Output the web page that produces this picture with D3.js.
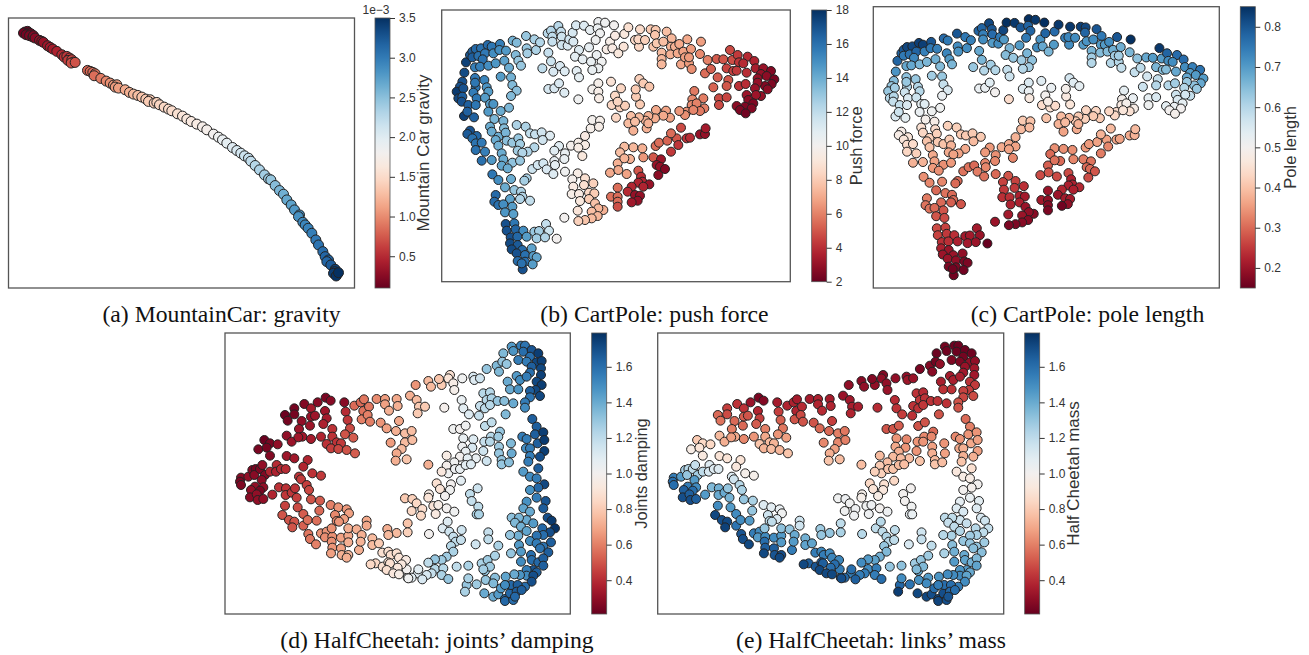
<!DOCTYPE html>
<html>
<head>
<meta charset="utf-8">
<script src="https://cdn.jsdelivr.net/npm/d3@7"></script>
<style>
  html, body { margin: 0; padding: 0; background: #fff; }
  svg { display: block; }
</style>
</head>
<body>
<div id="chart"></div>
<script>
// embedding x, embedding y, gravity (x 1e-3)
var mountainCarPoints = [
  [75,97,.12],[82,95,.13],[70,100,.14],[85,100,.15],[78,105,.16],[92,102,.17],[88,108,.2],[98,112,.22],[100,108,.22],[105,115,.25],
  [118,122,.3],[125,125,.31],[130,128,.33],[142,138,.37],[150,143,.39],[158,148,.4],[170,155,.45],[185,165,.5],[192,172,.55],[200,170,.58],
  [208,175,.6],[203,182,.6],[215,180,.65],[220,187,.68],[213,190,.7],[225,188,.72],
  [262,212,.8],[270,215,.82],[278,218,.85],[285,222,.87],[282,228,.85],[302,236,.92],[318,244,.98],[330,250,1.02],[340,256,1.05],[350,255,1.08],
  [345,262,1.08],[355,265,1.1],[375,270,1.17],[388,278,1.2],[400,283,1.25],[413,287,1.28],[425,292,1.32],[437,298,1.36],[450,300,1.38],[445,305,1.38],
  [462,310,1.4],[470,308,1.42],[478,315,1.45],[492,322,1.47],[505,328,1.5],[515,333,1.52],[532,342,1.55],[547,349,1.6],[560,358,1.62],[573,365,1.65],
  [590,373,1.68],[607,381,1.72],[620,390,1.75],[640,403,1.8],[655,412,1.85],[667,420,1.9],[680,430,1.95],[697,443,2.0],[710,452,2.05],[722,460,2.1],
  [733,468,2.15],[745,475,2.2],[752,484,2.22],[765,497,2.28],[778,510,2.33],[793,525,2.38],[805,537,2.42],[812,540,2.45],[825,557,2.52],[838,572,2.58],
  [850,583,2.62],[860,600,2.68],[873,615,2.72],[883,630,2.78],[898,645,2.85],[895,650,2.84],[908,667,2.9],[915,675,2.92],[924,685,2.95],[935,700,2.98],
  [947,720,3.02],[955,735,3.05],[968,755,3.1],[975,770,3.15],[985,780,3.18],[980,785,3.15],[992,795,3.22],[1005,808,3.4],[1003,815,3.42],[1012,822,3.45],
  [1000,820,3.42],[1008,828,3.48],[1015,818,3.5]
];

// embedding x, embedding y, push force, pole length
var cartPolePoints = [
  [93,187,17.5,.78],[105,165,16.8,.78],[112,155,16.5,.8],[122,147,16.3,.82],[138,145,16,.82],[158,135,16.2,.83],[170,140,15.8,.83],[195,132,15.5,.8],
  [112,172,16.6,.75],[130,168,16,.76],[150,160,15.7,.78],[175,160,15,.74],[193,150,15,.75],[213,152,14.6,.74],[143,178,16,.73],[120,202,15.5,.68],
  [135,200,15.5,.68],[160,197,15,.66],[182,190,14.7,.66],[208,182,14.3,.67],[222,203,14,.65],[88,218,17.2,.71],[197,230,14.5,.62],[228,232,13.8,.63],
  [242,165,13.5,.73],[250,182,13,.7],[258,197,13,.66],[233,122,13.8,.77],[245,128,13.5,.75],[273,108,13,.8],[275,145,13,.72],[277,160,12.7,.71],
  [298,118,12.6,.75],[303,150,12.5,.72],[315,127,12.3,.74],[322,205,12,.63],[340,158,11.8,.68],[348,184,11.6,.66],[355,215,11.2,.6],[375,198,11.2,.62],
  [389,214,11,.6],[338,100,12.2,.78],[348,92,12.3,.78],[370,78,12.2,.82],[352,110,12,.74],[352,125,11.8,.72],[378,95,11.8,.8],[380,110,11.6,.77],
  [380,135,11.5,.7],[398,137,11.2,.72],[403,118,11.5,.75],[415,125,11.2,.7],[413,98,11.3,.82],[423,76,11.2,.85],[447,77,11,.84],[432,150,11,.66],
  [420,170,10.8,.65],[443,178,10.6,.63],[462,142,10.6,.7],[465,90,10.6,.8],[490,66,10.3,.85],[510,68,10.2,.84],[537,76,10,.85],[488,85,10.4,.78],
  [495,100,10.2,.78],[482,120,10.2,.75],[485,165,10.4,.66],[468,185,10.5,.62],[500,185,10.2,.64],[490,205,10.4,.62],[472,210,10.5,.6],[425,213,10.8,.58],
  [432,232,10.7,.57],[525,125,9.6,.71],[515,148,9.5,.72],[540,107,9.4,.78],[532,145,9.4,.68],[550,160,9.2,.66],[568,102,9.2,.77],[566,140,9,.7],
  [580,82,8.8,.84],[615,88,8.6,.84],[600,120,8.5,.74],[612,140,8.4,.72],[610,118,8.4,.73],[630,120,8.2,.72],[647,88,8,.83],[662,90,7.9,.82],
  [695,95,7.6,.8],[660,105,7.8,.78],[710,115,7.4,.75],[757,118,7,.8],[798,125,6.7,.85],[655,140,7.8,.7],[665,130,7.9,.71],[685,125,7.6,.72],
  [680,158,7.5,.66],[680,177,7.4,.62],[680,193,7.4,.6],[708,140,7.3,.7],[706,163,7.2,.65],[720,140,7.2,.7],[733,132,7,.72],[728,160,7,.65],
  [738,193,6.9,.6],[745,155,6.8,.67],[750,172,6.7,.62],[762,190,6.6,.6],[768,147,6.6,.67],[762,172,6.6,.62],[770,207,6.3,.58],[795,162,6.2,.66],
  [818,180,6,.64],[810,220,5.5,.58],[828,207,5.2,.59],[848,232,5.1,.56],[845,177,5.1,.68],[865,178,5,.7],[885,150,4.7,.84],[892,180,4.8,.7],
  [875,205,4.6,.66],[895,213,4.5,.65],[908,165,4.3,.78],[912,187,4.2,.72],[905,212,4.3,.65],[935,218,4,.68],[938,170,3.9,.77],[925,190,3.9,.72],
  [958,183,3.7,.77],[962,205,3.5,.72],[985,205,3.1,.74],[1008,213,2.6,.76],[978,222,3,.7],[995,228,2.8,.7],[968,235,3,.68],[1018,238,2.4,.7],
  [1010,252,2.5,.68],[990,258,2.6,.64],[968,248,3,.63],[960,265,3.1,.6],[998,268,2.8,.63],[978,288,3,.58],[963,285,3.2,.56],[935,285,3.2,.57],
  [940,300,2.8,.55],[955,310,2.5,.53],[930,320,2.5,.52],[905,318,2.8,.53],[915,330,2.5,.5],[950,325,2.6,.5],[932,340,2.2,.49],[880,240,5,.58],
  [875,258,5,.6],[912,258,4.1,.6],[932,252,4,.62],[852,295,4.7,.53],[875,292,4.6,.55],[852,315,4.7,.51],[835,262,5.3,.57],[778,273,5.8,.53],
  [772,298,6.2,.49],[805,295,5.9,.52],[770,315,6.2,.47],[785,310,6,.49],[808,325,5.9,.48],[795,333,5.8,.45],[755,335,6.3,.44],[775,330,6.1,.46],
  [750,345,6.3,.43],[733,333,6.5,.43],[693,332,6.8,.43],[663,330,7,.43],[705,353,6.8,.41],[685,347,7,.41],[660,355,7.1,.42],[640,348,7.2,.41],
  [632,362,7.2,.41],[612,352,7.5,.39],[588,348,7.6,.39],[580,370,7.5,.38],[600,365,7.6,.39],[595,392,7.2,.36],[635,385,7.2,.37],[640,370,7.2,.38],
  [543,353,8.4,.4],[530,315,8.4,.44],[555,322,8.2,.45],[570,317,8.1,.44],[615,313,8,.46],[603,290,8,.47],[602,268,8,.49],[540,287,8.5,.5],
  [548,305,8.3,.48],[558,265,8.4,.52],[528,245,8.9,.54],[613,237,8.2,.56],[625,250,8,.54],[643,260,7.8,.53],[490,250,9.7,.55],[472,268,9.9,.54],
  [490,275,9.6,.52],[492,295,9.5,.47],[430,298,10.2,.44],[340,267,11.3,.52],[358,265,11.2,.52],[372,250,11.2,.54],[388,278,11,.5],
  [232,255,13.5,.58],[245,272,13.3,.55],[228,288,13.5,.52],[120,234,15.7,.64],[122,262,15.8,.6],
  [82,245,17,.65],[75,260,17,.63],[65,275,17.7,.63],[85,265,17,.62],[70,295,17.3,.6],[82,290,16.6,.6],[80,305,17,.58],[100,315,16.5,.58],
  [120,248,15.8,.63],[148,240,15.3,.63],[115,278,15.6,.57],[125,295,15.8,.55],[155,262,14.8,.6],[160,275,14.5,.6],[150,293,14.5,.57],[122,315,15.8,.55],
  [87,348,17.5,.55],[117,352,16.5,.53],[97,335,16.5,.57],[165,312,14.4,.53],[175,312,14.8,.54],[160,335,14.6,.52],[197,333,14,.51],[222,323,13.6,.51],
  [178,357,13.6,.49],[205,363,13.7,.48],[165,380,14,.45],[207,385,13.4,.44],[245,375,12.5,.42],[272,380,12.5,.42],[105,392,17,.48],[97,402,16.7,.48],
  [125,408,16.3,.46],[112,415,16,.46],[122,430,15.9,.44],[122,450,16,.43],[140,428,15.7,.44],[150,455,15.5,.42],[140,482,16,.38],[170,480,14.6,.38],
  [170,395,14,.43],[190,410,14,.42],[212,398,13.7,.42],[182,420,14,.4],[190,437,13.8,.4],[215,422,13.3,.41],[232,428,13,.4],[250,415,13,.41],
  [255,432,12.8,.38],[285,400,12,.41],[300,403,11.8,.41],[320,397,11.5,.41],[345,407,11,.41],[323,420,11.5,.39],[298,442,12.3,.37],[278,455,12.4,.36],
  [248,452,12.8,.37],[262,458,12.4,.36],[200,460,14,.37],[205,478,14,.36],[200,497,14.2,.35],[232,488,13.2,.34],[218,505,14,.34],[255,482,13,.35],
  [172,523,15.8,.34],[190,540,15,.33],[228,537,14,.33],[275,535,12.6,.3],[268,542,12.7,.3],[292,507,11.6,.31],[308,495,11.4,.31],[325,490,11.4,.3],
  [335,508,11.2,.32],[355,522,11,.31],[358,483,10.6,.33],[360,495,10.7,.33],[372,438,10.9,.35],[358,452,10.9,.35],[390,460,10.5,.34],[388,477,10.5,.33],
  [390,515,10.2,.3],[408,437,9.8,.37],[430,428,9.6,.37],[450,435,9.5,.36],[430,443,9.5,.36],[442,468,9.2,.33],[450,408,9.4,.38],[467,385,9.7,.39],
  [472,360,9.9,.41],[495,362,9.7,.4],[492,380,9.6,.39],[428,520,9.5,.28],[412,538,9.8,.26],[450,535,8.8,.26],[475,550,8.2,.24],[447,555,8.8,.25],
  [415,560,9.4,.25],[410,582,9.6,.24],[432,582,9.4,.24],[435,603,9.2,.22],[462,578,8.5,.22],[478,580,8,.21],[462,597,8,.22],[480,610,7.7,.2],
  [505,630,7.2,.18],[490,625,7.4,.19],[470,635,7.6,.2],[488,648,7.4,.18],[470,655,7.5,.18],[450,660,7.8,.17],[430,663,8.2,.17],[428,632,9,.21],[388,653,10,.2],
  [210,562,14,.3],[238,570,13,.31],[258,575,12.5,.3],[262,590,12.3,.3],[255,597,12.4,.29],[285,602,11.9,.28],[225,597,14.3,.3],[182,585,16.2,.32],
  [178,605,16.2,.31],[190,615,16,.31],[205,613,15,.3],[232,620,14.5,.28],[210,637,14.7,.28],[235,642,14.4,.27],[212,672,17,.27],[238,670,15.8,.26],
  [215,692,17,.26],[242,688,16.4,.25],[265,692,15,.24],[227,712,17,.24],[247,710,16.3,.24],[275,710,14.5,.22],[298,695,13,.21],[312,693,12.7,.21],
  [333,672,11.8,.21],[342,692,11.6,.2],[305,715,12.8,.21],[330,712,12.4,.2],[365,716,10,.15],[225,730,17.2,.22],[248,735,16.7,.2],[230,748,17.2,.2],
  [262,750,16.2,.2],[290,745,14.3,.19],[245,760,17,.2],[270,765,16,.19],[295,768,14.5,.17],[305,772,14.2,.17],[248,783,16.2,.17],[270,785,16,.17],
  [293,793,14.5,.16],[263,808,17,.16],[260,790,16,.16],
  [568,440,7.5,.34],[595,442,7.4,.34],[622,445,7.2,.34],[555,457,7.6,.3],[585,477,7.2,.3],[625,472,6.5,.33],[548,490,7.2,.29],[525,518,7,.27],
  [550,510,7,.28],[575,522,6.8,.27],[568,475,7.3,.31],[610,512,5,.27],[655,472,5,.32],[662,438,5.5,.35],[672,428,5.5,.35],[678,478,3.2,.31],
  [697,422,5.3,.36],[725,415,5,.36],[708,400,5.5,.38],[738,383,4.7,.39],[730,435,4.2,.33],[755,415,4.1,.36],[765,413,4,.36],[708,455,4.3,.32],
  [795,403,3,.37],[810,402,3,.38],[812,385,3.4,.39],[665,495,3.1,.3],[675,500,3,.3],[690,507,2.6,.28],[670,525,2.8,.27],[618,530,4,.22],
  [622,545,3.8,.22],[610,548,3.7,.22],[643,553,3.1,.23],[625,560,3.7,.22],[590,560,3.8,.23],[578,575,3.9,.2],[600,585,3,.21],[615,587,3,.21],
  [608,602,3,.19],[590,607,3.3,.16],[548,563,5.5,.2],[528,590,5.6,.21],[548,590,5.5,.19],[548,605,5.5,.18],[548,620,4.8,.17]
];

// embedding x, embedding y, joints damping, links mass
var halfCheetahPoints = [
  [78,458,.28,1.55],[75,470,.25,1.6],[78,480,.26,1.6],[100,455,.3,1.45],[112,435,.27,1.27],[122,432,.24,1.22],[118,450,.28,1.3],[135,432,.26,1.2],
  [142,420,.3,1.18],[150,450,.27,1.27],[140,465,.29,1.45],[120,485,.3,1.55],[145,487,.3,1.5],[135,497,.25,1.6],[108,495,.3,1.65],[105,517,.28,1.7],
  [125,508,.3,1.65],[128,525,.3,1.7],[145,522,.3,1.65],[172,509,.38,1.45],[165,440,.38,1.2],[185,420,.4,1.1],[183,440,.37,1.12],[198,432,.4,1.1],
  [212,432,.4,1.1],[192,487,.42,1.35],[213,490,.42,1.38],[212,510,.43,1.4],[230,503,.43,1.4],[240,490,.42,1.3],[252,455,.42,1.1],[258,463,.44,1.15],
  [275,480,.45,1.22],[282,495,.47,1.25],[245,518,.45,1.37],[210,542,.46,1.5],[248,547,.48,1.45],[288,523,.5,1.3],[315,527,.52,1.25],[265,567,.52,1.5],
  [313,557,.55,1.3],[202,570,.5,1.72],[222,585,.5,1.7],[238,590,.5,1.72],[232,607,.5,1.74],[265,602,.53,1.58],[278,585,.56,1.5],[305,587,.56,1.45],
  [280,627,.58,1.68],[285,642,.58,1.7],[303,658,.6,1.72],[318,625,.64,1.55],[335,620,.65,1.5],[330,637,.63,1.45],[352,635,.64,1.5],[350,650,.64,1.6],
  [352,668,.65,1.65],[348,685,.68,1.72],[378,670,.68,1.65],[380,690,.72,1.68],[400,690,.74,1.7],[395,698,.72,1.72],[378,638,.68,1.5],[400,632,.7,1.45],
  [400,652,.72,1.45],[400,610,.72,1.32],[425,613,.72,1.3],[440,630,.72,1.4],[432,675,.72,1.55],[437,650,.73,1.45],[472,640,.75,1.38],[472,660,.75,1.42],
  [492,655,.8,1.42],[347,540,.6,1.1],[370,547,.65,1.08],[395,553,.66,1.05],[402,565,.68,1.02],[360,570,.62,1.15],[387,582,.68,1.1],[365,588,.62,1.2],
  [350,610,.64,1.3],[372,590,.65,1.2],[455,587,.7,1.15],[455,602,.7,1.15],
  [130,373,.25,.95],[148,345,.22,.8],[165,355,.25,.85],[155,368,.24,.9],[165,392,.27,.93],[188,358,.3,.85],[215,332,.3,.75],[230,350,.32,.72],
  [215,393,.33,.9],[238,400,.34,.9],[278,405,.38,.9],[265,425,.38,.92],[292,445,.42,.97],[318,452,.44,.97],[210,270,.22,.55],[218,287,.24,.57],
  [238,250,.24,.45],[238,268,.24,.48],[268,237,.27,.42],[260,288,.3,.55],[288,250,.35,.42],[288,275,.32,.52],[300,272,.33,.5],[285,302,.33,.55],
  [252,312,.33,.6],[262,335,.34,.7],[250,337,.34,.68],[288,342,.35,.62],[308,232,.28,.32],[332,218,.25,.25],[347,227,.28,.27],[330,258,.33,.38],
  [335,280,.35,.45],[325,297,.37,.52],[318,335,.38,.65],[352,312,.42,.6],[352,335,.42,.7],[335,357,.42,.78],[365,352,.42,.75],[378,355,.44,.73],
  [348,370,.45,.73],[370,372,.47,.76],[395,375,.5,.74],[420,385,.52,.78],[388,232,.28,.35],[392,260,.4,.45],[398,285,.43,.53],[405,310,.48,.58],
  [390,328,.5,.65],[415,338,.52,.68],[418,242,.55,.38],[437,232,.55,.37],[447,223,.58,.35],[445,258,.57,.38],[440,283,.6,.5],[462,245,.58,.4],
  [458,270,.6,.48],[465,290,.6,.5],[485,222,.63,.35],[510,222,.67,.37],[510,238,.68,.38],[522,257,.72,.4],[497,293,.65,.5],[515,310,.68,.55],
  [545,222,.7,.35],[548,243,.72,.38],[552,288,.7,.45],[543,318,.72,.55],[527,353,.67,.62],[570,325,.76,.6],[590,318,.76,.58],[570,352,.75,.62],
  [592,345,.76,.6],[560,372,.75,.68],[545,385,.7,.72],[542,407,.72,.78],[575,403,.78,.76],[602,180,.65,.3],[640,168,.75,.28],[648,185,.75,.3],
  [680,180,.8,.3],[672,162,.78,.27],[705,150,.88,.27],[700,160,.9,.3],[715,175,.95,.3],[718,195,.97,.32],[742,160,1.02,.3],[775,155,1.12,.3],
  [778,165,1.1,.33],[795,160,1.15,.32],[585,212,.72,.32],[605,225,.76,.34],[612,245,.8,.36],[630,245,.8,.36],[608,265,.8,.38],[688,248,.98,.4],
  [740,225,1.05,.4],[745,250,1.08,.42],[762,268,1.1,.45],[792,272,1.18,.42],
  [815,132,1.3,.25],[845,122,1.35,.27],[852,140,1.35,.28],[865,85,1.35,.22],[862,110,1.3,.24],[875,117,1.3,.3],[890,65,1.45,.24],[895,78,1.47,.23],
  [918,62,1.55,.22],[930,62,1.58,.22],[925,80,1.6,.22],[910,105,1.55,.26],[950,75,1.68,.22],[970,85,1.75,.23],[945,95,1.6,.24],[935,110,1.55,.26],
  [965,112,1.72,.3],[980,108,1.74,.3],[950,125,1.65,.32],[978,130,1.72,.34],[945,143,1.6,.34],[905,153,1.45,.35],[915,165,1.5,.36],[935,155,1.55,.36],
  [978,150,1.74,.34],[878,170,1.4,.36],[885,193,1.4,.42],[910,193,1.47,.42],[965,170,1.72,.42],[980,180,1.75,.44],[962,195,1.72,.45],[945,198,1.65,.46],
  [975,213,1.72,.48],[945,217,1.58,.47],[930,232,1.55,.5],[930,248,1.5,.5],[895,235,1.4,.42],[805,205,1.22,.42],[825,202,1.22,.4],[815,225,1.22,.43],
  [830,220,1.25,.42],[795,243,1.18,.42],[810,250,1.2,.42],[825,240,1.22,.43],[848,228,1.3,.42],[868,228,1.33,.42],[872,268,1.35,.5],[952,282,1.65,.55],
  [965,305,1.65,.6],[960,328,1.65,.65],[985,322,1.75,.65],[968,355,1.65,.7],[988,345,1.76,.68],[988,378,1.75,.68],[922,335,1.55,.62],[935,342,1.55,.65],
  [933,370,1.5,.7],[945,370,1.55,.72],[975,395,1.7,.72],[945,393,1.55,.72],[940,410,1.55,.78],[970,430,1.65,.88],[925,440,1.45,.92],[945,455,1.5,.95],
  [965,460,1.55,.95],[988,478,1.72,1.0],[970,488,1.62,.98],[945,495,1.48,1.0],[965,518,1.55,1.05],[992,528,1.68,1.08],[985,550,1.66,1.1],[935,530,1.48,1.07],
  [925,550,1.42,1.1],[945,560,1.4,1.12],[935,585,1.4,1.15],[890,578,1.32,1.2],[912,578,1.36,1.2],[900,593,1.35,1.18],[955,595,1.45,1.18],[918,605,1.38,1.2],
  [935,618,1.42,1.23],[910,632,1.38,1.25],[885,630,1.3,1.22],[998,578,1.7,1.12],[1010,587,1.76,1.15],[1020,610,1.78,1.18],[1005,622,1.7,1.2],[982,610,1.62,1.22],
  [985,630,1.6,1.25],[965,632,1.58,1.28],[945,648,1.5,1.3],[1008,652,1.65,1.28],[965,655,1.55,1.3],[985,665,1.58,1.3],[1000,682,1.65,1.33],[975,670,1.58,1.33],
  [912,660,1.45,1.33],[918,680,1.45,1.38],[888,685,1.3,1.25],[948,690,1.6,1.4],[950,705,1.6,1.42],[918,710,1.5,1.45],[970,712,1.62,1.38],[985,700,1.65,1.35],
  [985,722,1.65,1.42],[955,735,1.68,1.45],[935,735,1.55,1.47],[935,752,1.5,1.5],[915,750,1.47,1.5],[965,742,1.65,1.4],[955,752,1.7,1.42],[950,770,1.7,1.5],
  [930,785,1.6,1.55],[898,748,1.4,1.5],[872,755,1.42,1.47],[840,758,1.33,1.45],[810,738,1.3,1.42],[800,715,1.25,1.28],[818,705,1.28,1.3],[825,725,1.28,1.35],
  [840,692,1.25,1.28],[850,662,1.25,1.2],[820,622,1.18,1.15],[820,643,1.2,1.18],[782,658,1.15,1.12],[805,733,1.27,1.35],[812,765,1.3,1.48],[835,775,1.35,1.5],
  [755,780,1.3,1.62],[760,760,1.25,1.5],[750,800,1.25,1.75],[785,778,1.28,1.58],[808,805,1.4,1.72],[835,815,1.4,1.72],[850,808,1.45,1.7],[858,790,1.45,1.6],
  [870,822,1.6,1.72],[870,828,1.62,1.73],[885,805,1.62,1.7],[895,825,1.6,1.7],[888,780,1.62,1.6],[908,780,1.65,1.6],[905,800,1.65,1.62],[920,795,1.65,1.6],
  [870,780,1.5,1.55],[900,815,1.62,1.68],[760,722,1.25,1.32],[725,725,1.2,1.3],
  [715,312,1.02,.5],[735,312,1.0,.5],[752,302,1.02,.52],[810,303,1.2,.5],[830,292,1.2,.5],[855,320,1.3,.55],[828,335,1.22,.62],[808,350,1.18,.65],
  [825,350,1.22,.65],[850,335,1.28,.62],[745,340,1.05,.65],[775,343,1.1,.62],[742,365,1.03,.7],[772,368,1.12,.65],[752,380,1.05,.72],[805,378,1.15,.65],
  [852,365,1.28,.68],[852,385,1.3,.72],[888,355,1.35,.65],[890,385,1.4,.68],[695,392,.95,.75],[735,395,1.0,.75],[783,400,1.05,.76],[758,400,1.08,.75],
  [815,408,1.15,.78],[860,405,1.3,.75],[860,418,1.3,.78],[882,412,1.33,.76],[718,412,1.02,.76],[695,422,.98,.8],[700,445,1.02,.82],[680,440,.92,.82],
  [720,432,1.03,.78],[735,432,1.05,.78],[752,420,1.08,.75],[768,418,1.1,.76],[640,419,.72,.76],[738,467,1.08,.85],[665,475,.88,.85],[675,492,.9,.9],
  [708,478,1,.88],[705,495,1.02,.92],[690,513,1.0,.95],[788,490,1.15,1.0],[765,507,1.2,1.0],[770,528,1.18,1.0],[790,545,1.2,1.02],[785,568,1.25,1.05],
  [792,568,1.25,1.05],[642,508,.95,.97],[640,518,.9,.97],[570,520,.8,1.02],[592,522,.82,1.03],[605,535,.85,1.02],[622,552,.87,1.03],[590,558,.85,1.02],
  [618,572,.85,1.03],[655,543,.9,1.02],[670,540,.95,1.03],[695,550,1.0,1.0],[718,560,1.02,1.03],[662,567,.93,1.03],[578,595,.78,1.2],[578,622,.82,1.25],
  [545,624,.75,1.3],[517,612,.72,1.28],[520,630,.75,1.3],[642,627,1.0,1.22],[683,610,1.1,1.2],[698,590,1.1,1.22],[703,620,1.15,1.2],[740,615,1.15,1.2],
  [715,635,1.18,1.23],[722,650,1.2,1.22],[738,645,1.18,1.2],[708,663,1.22,1.3],[715,680,1.25,1.35],[695,695,1.28,1.38],[680,705,1.28,1.42],[660,703,1.3,1.45],
  [640,713,1.2,1.5],[660,732,1.22,1.5],[685,730,1.22,1.55],[650,745,1.18,1.55],[635,750,1.12,1.55],[608,745,1.1,1.55],[610,733,1.08,1.6],[622,763,1.12,1.65],
  [590,758,1.08,1.62],[578,758,1.05,1.65],[575,733,1.0,1.55],[680,750,1.25,1.55],[700,762,1.3,1.6],[502,683,.88,1.55],[520,680,.88,1.52],[527,690,.87,1.55],
  [545,685,.88,1.5],[552,698,.9,1.52],[573,705,.94,1.52],[560,718,.92,1.6],[482,715,.85,1.65],[467,718,.85,1.72],[503,725,.88,1.68],[520,712,.88,1.68],
  [525,715,.88,1.65],[548,728,.92,1.6],[515,735,.88,1.72],[535,745,.92,1.72],[552,748,.95,1.72],[580,760,1.02,1.7]
];

var gravityTicks = [0.5, 1.0, 1.5, 2.0, 2.5, 3.0, 3.5];
var forceTicks   = [2, 4, 6, 8, 10, 12, 14, 16, 18];
var lengthTicks  = [0.2, 0.3, 0.4, 0.5, 0.6, 0.7, 0.8];
var cheetahTicks = [0.4, 0.6, 0.8, 1.0, 1.2, 1.4, 1.6];

var gravityRange = [0.1, 3.5];
var forceRange   = [2, 18];
var lengthRange  = [0.15, 0.85];
var cheetahRange = [0.21, 1.79];

// the embeddings have no axes, these are just their limits
var mountainCarXLim = [25, 1063], mountainCarYLim = [55, 864];
var cartPoleXLim    = [20, 1066], cartPoleYLim    = [30, 845];
var cheetahXLim     = [30, 1066], cheetahYLim     = [24, 867];

var panels = [
  { points: mountainCarPoints, col: 2, xLim: mountainCarXLim, yLim: mountainCarYLim, range: gravityRange, ticks: gravityTicks, fmt: ".1f",
    label: "Mountain Car gravity", caption: "(a) MountainCar: gravity",
    x0: 8.5, x1: 354.5, y0: 18, y1: 288, barX: 375, labelX: 425, labelSize: 17, capX: 221.5, capY: 322, r: 5, exponent: true },
  { points: cartPolePoints, col: 2, xLim: cartPoleXLim, yLim: cartPoleYLim, range: forceRange, ticks: forceTicks, fmt: "d",
    label: "Push force", caption: "(b) CartPole: push force",
    x0: 441.7, x1: 790.3, y0: 10, y1: 281.7, barX: 811.7, labelX: 858, labelSize: 16.5, capX: 654.5, capY: 322, r: 4.5 },
  { points: cartPolePoints, col: 3, xLim: cartPoleXLim, yLim: cartPoleYLim, range: lengthRange, ticks: lengthTicks, fmt: ".1f",
    label: "Pole length", caption: "(c) CartPole: pole length",
    x0: 873.3, x1: 1219.3, y0: 6.7, y1: 288, barX: 1240.3, labelX: 1292, labelSize: 16.5, capX: 1087.5, capY: 322, r: 4.5 },
  { points: halfCheetahPoints, col: 2, xLim: cheetahXLim, yLim: cheetahYLim, range: cheetahRange, ticks: cheetahTicks, fmt: ".1f",
    label: "Joints damping", caption: "(d) HalfCheetah: joints’ damping",
    x0: 225, x1: 570.3, y0: 333, y1: 614, barX: 591.7, labelX: 643, labelSize: 16.4, capX: 437, capY: 648, r: 4.5 },
  { points: halfCheetahPoints, col: 3, xLim: cheetahXLim, yLim: cheetahYLim, range: cheetahRange, ticks: cheetahTicks, fmt: ".1f",
    label: "Half Cheetah mass", caption: "(e) HalfCheetah: links’ mass",
    x0: 657.7, x1: 1003.7, y0: 333, y1: 614, barX: 1024.7, labelX: 1075, labelSize: 17, capX: 871, capY: 648, r: 4.5 }
];

var width = 1309, height = 655, barWidth = 15;
var inkColor = "#333", frameColor = "#555";

var svg = d3.select("#chart").append("svg")
    .attr("width", width)
    .attr("height", height)
    .attr("font-family", "'Liberation Sans', Arial, sans-serif");

var defs = svg.append("defs");

function drawPanel(p, i) {
    var x = d3.scaleLinear().domain(p.xLim).range([p.x0, p.x1]);
    var y = d3.scaleLinear().domain(p.yLim).range([p.y0, p.y1]);
    var color = d3.scaleSequential(d3.interpolateRdBu).domain(p.range);

    var g = svg.append("g");

    g.selectAll("circle")
        .data(p.points)
        .enter().append("circle")
        .attr("cx", function(d) { return x(d[0]); })
        .attr("cy", function(d) { return y(d[1]); })
        .attr("r", p.r)
        .attr("fill", function(d) { return color(d[p.col]); })
        .attr("stroke", "#222")
        .attr("stroke-width", 1);

    g.append("rect")
        .attr("x", p.x0)
        .attr("y", p.y0)
        .attr("width", p.x1 - p.x0)
        .attr("height", p.y1 - p.y0)
        .attr("fill", "none")
        .attr("stroke", frameColor)
        .attr("stroke-width", 1.3);

    // colorbar
    var gradId = "bar" + i;
    var grad = defs.append("linearGradient")
        .attr("id", gradId)
        .attr("x1", 0).attr("x2", 0)
        .attr("y1", 1).attr("y2", 0);
    d3.range(0, 1.001, 0.05).forEach(function(t) {
        grad.append("stop")
            .attr("offset", t)
            .attr("stop-color", d3.interpolateRdBu(t));
    });

    g.append("rect")
        .attr("x", p.barX)
        .attr("y", p.y0)
        .attr("width", barWidth)
        .attr("height", p.y1 - p.y0)
        .attr("fill", "url(#" + gradId + ")")
        .attr("stroke", frameColor)
        .attr("stroke-width", 0.8);

    var barScale = d3.scaleLinear().domain(p.range).range([p.y1, p.y0]);
    var axis = g.append("g")
        .attr("transform", "translate(" + (p.barX + barWidth) + ",0)")
        .call(d3.axisRight(barScale)
            .tickValues(p.ticks)
            .tickFormat(d3.format(p.fmt))
            .tickSize(5)
            .tickSizeOuter(0)
            .tickPadding(4));
    axis.select(".domain").remove();
    axis.selectAll("line").attr("stroke", inkColor).attr("stroke-width", 1);
    axis.selectAll("text")
        .attr("fill", inkColor)
        .attr("font-size", 12)
        .attr("font-family", "'Liberation Sans', Arial, sans-serif");

    g.append("text")
        .attr("transform", "translate(" + p.labelX + "," + ((p.y0 + p.y1) / 2) + ") rotate(-90)")
        .attr("text-anchor", "middle")
        .attr("dominant-baseline", "middle")
        .attr("fill", inkColor)
        .attr("font-size", p.labelSize)
        .text(p.label);

    if (p.exponent) {
        g.append("text")
            .attr("x", p.barX + 1)
            .attr("y", p.y0 - 4)
            .attr("text-anchor", "middle")
            .attr("fill", inkColor)
            .attr("font-size", 12)
            .text("1e\u22123");
    }

    g.append("text")
        .attr("x", p.capX)
        .attr("y", p.capY)
        .attr("text-anchor", "middle")
        .attr("fill", "#111")
        .attr("font-family", "'Liberation Serif', 'Times New Roman', serif")
        .attr("font-size", 23.7)
        .text(p.caption);
}

panels.forEach(drawPanel);
</script>
</body>
</html>
